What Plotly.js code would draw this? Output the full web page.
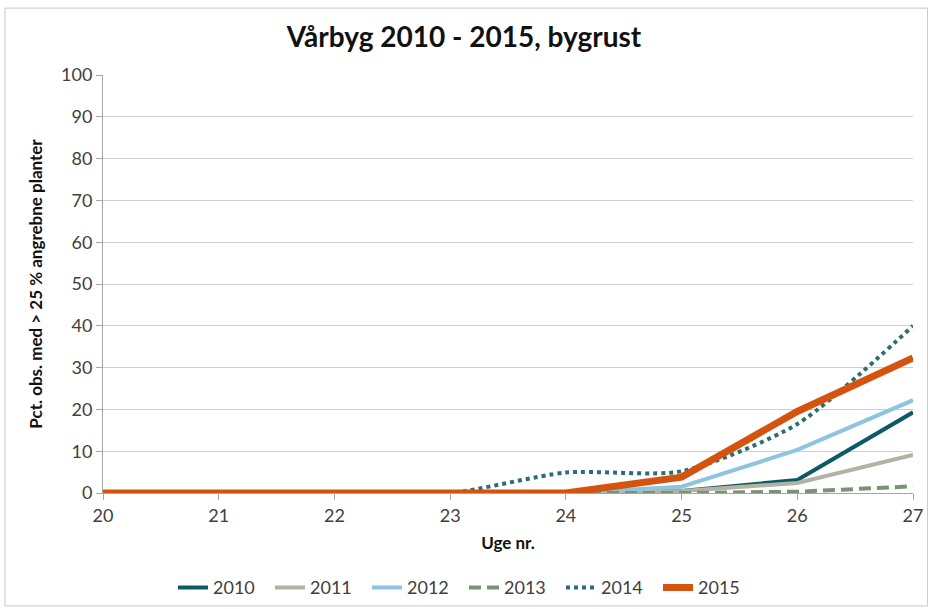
<!DOCTYPE html>
<html>
<head>
<meta charset="utf-8">
<script src="https://cdn.plot.ly/plotly-3.0.1.min.js"></script>
<style>html,body{margin:0;padding:0;background:#fff;}#chart{width:928px;height:609px;}</style>
</head>
<body>
<div id="chart"></div>
<script>
const weeks = [20, 21, 22, 23, 24, 25, 26, 27];
const y2010 = [0, 0, 0, 0, 0, 0.5, 3.1, 19.3];
const y2011 = [0, 0, 0, 0, 0, 0.5, 2.4, 9.1];
const y2012 = [0, 0, 0, 0, 0, 1.5, 10.3, 22.2];
const y2013 = [0, 0, 0, 0, 0, 0, 0.3, 1.6];
const y2014 = [0, 0, 0, 0, 4.9, 5.2, 16.5, 40];
const y2015 = [0, 0, 0, 0, 0, 3.8, 19.5, 32.3];
const seriesNames = ['2010', '2011', '2012', '2013', '2014', '2015'];

const traces = [
  {x: weeks, y: y2010, name: seriesNames[0], mode: 'lines', line: {color: '#0d5a66', width: 4}},
  {x: weeks, y: y2011, name: seriesNames[1], mode: 'lines', line: {color: '#b3b3a3', width: 4}},
  {x: weeks, y: y2012, name: seriesNames[2], mode: 'lines', line: {color: '#8ec4e0', width: 4}},
  {x: weeks, y: y2013, name: seriesNames[3], mode: 'lines', line: {color: '#7b9276', width: 4, dash: '12px,6px'}},
  {x: weeks, y: y2014, name: seriesNames[4], mode: 'lines', line: {color: '#2b6e74', width: 4, dash: 'dot', shape: 'spline', smoothing: 0.7}},
  {x: weeks, y: y2015, name: seriesNames[5], mode: 'lines', line: {color: '#d4540f', width: 7}}
];

const layout = {
  width: 928, height: 609,
  margin: {l: 103, r: 15, t: 75, b: 116, autoexpand: false},
  paper_bgcolor: '#ffffff', plot_bgcolor: '#ffffff',
  font: {family: 'Lato, "Open Sans", sans-serif', color: '#404040'},
  title: {text: '<b>Vårbyg 2010 - 2015, bygrust</b>', x: 0.5, xanchor: 'center', xref: 'container',
          y: 38, yref: 'container', yanchor: 'middle',
          font: {family: 'Lato, "Open Sans", sans-serif', size: 28, color: '#111111'}},
  xaxis: {
    range: [20, 27], tickmode: 'array', tickvals: weeks, ticktext: weeks.map(String),
    showgrid: false, zeroline: false, showline: true, linecolor: '#a6a6a6', linewidth: 1,
    ticks: 'outside', ticklen: 6, tickcolor: '#a6a6a6',
    tickfont: {size: 18, color: '#404040'},
    title: {text: '<b>Uge nr.</b>', font: {size: 17, color: '#111111'}, standoff: 12}
  },
  yaxis: {
    range: [0, 100], tickmode: 'linear', tick0: 0, dtick: 10,
    showgrid: true, gridcolor: '#d0d0d0', gridwidth: 1, zeroline: false,
    showline: true, linecolor: '#a6a6a6', linewidth: 1,
    ticks: 'outside', ticklen: 6, tickcolor: '#a6a6a6',
    tickfont: {size: 18, color: '#404040'},
    title: {text: '<b>Pct. obs. med > 25 % angrebne planter</b>', font: {size: 17, color: '#111111'}, standoff: 14}
  },
  showlegend: true,
  legend: {orientation: 'h', x: 0.5, xref: 'container', xanchor: 'center', y: 0.035, yref: 'container', yanchor: 'middle',
           bgcolor: 'rgba(0,0,0,0)', font: {size: 18, color: '#404040'}, traceorder: 'normal', itemwidth: 30,
           entrywidth: 52, entrywidthmode: 'pixels'},
  shapes: [{type: 'rect', xref: 'paper', yref: 'paper', x0: -0.121, x1: 1.018, y0: -0.27, y1: 1.16,
            line: {color: '#c8c8c8', width: 1}, fillcolor: 'rgba(0,0,0,0)', layer: 'below'}]
};

Plotly.newPlot('chart', traces, layout, {displayModeBar: false, staticPlot: true});
</script>
</body>
</html>
